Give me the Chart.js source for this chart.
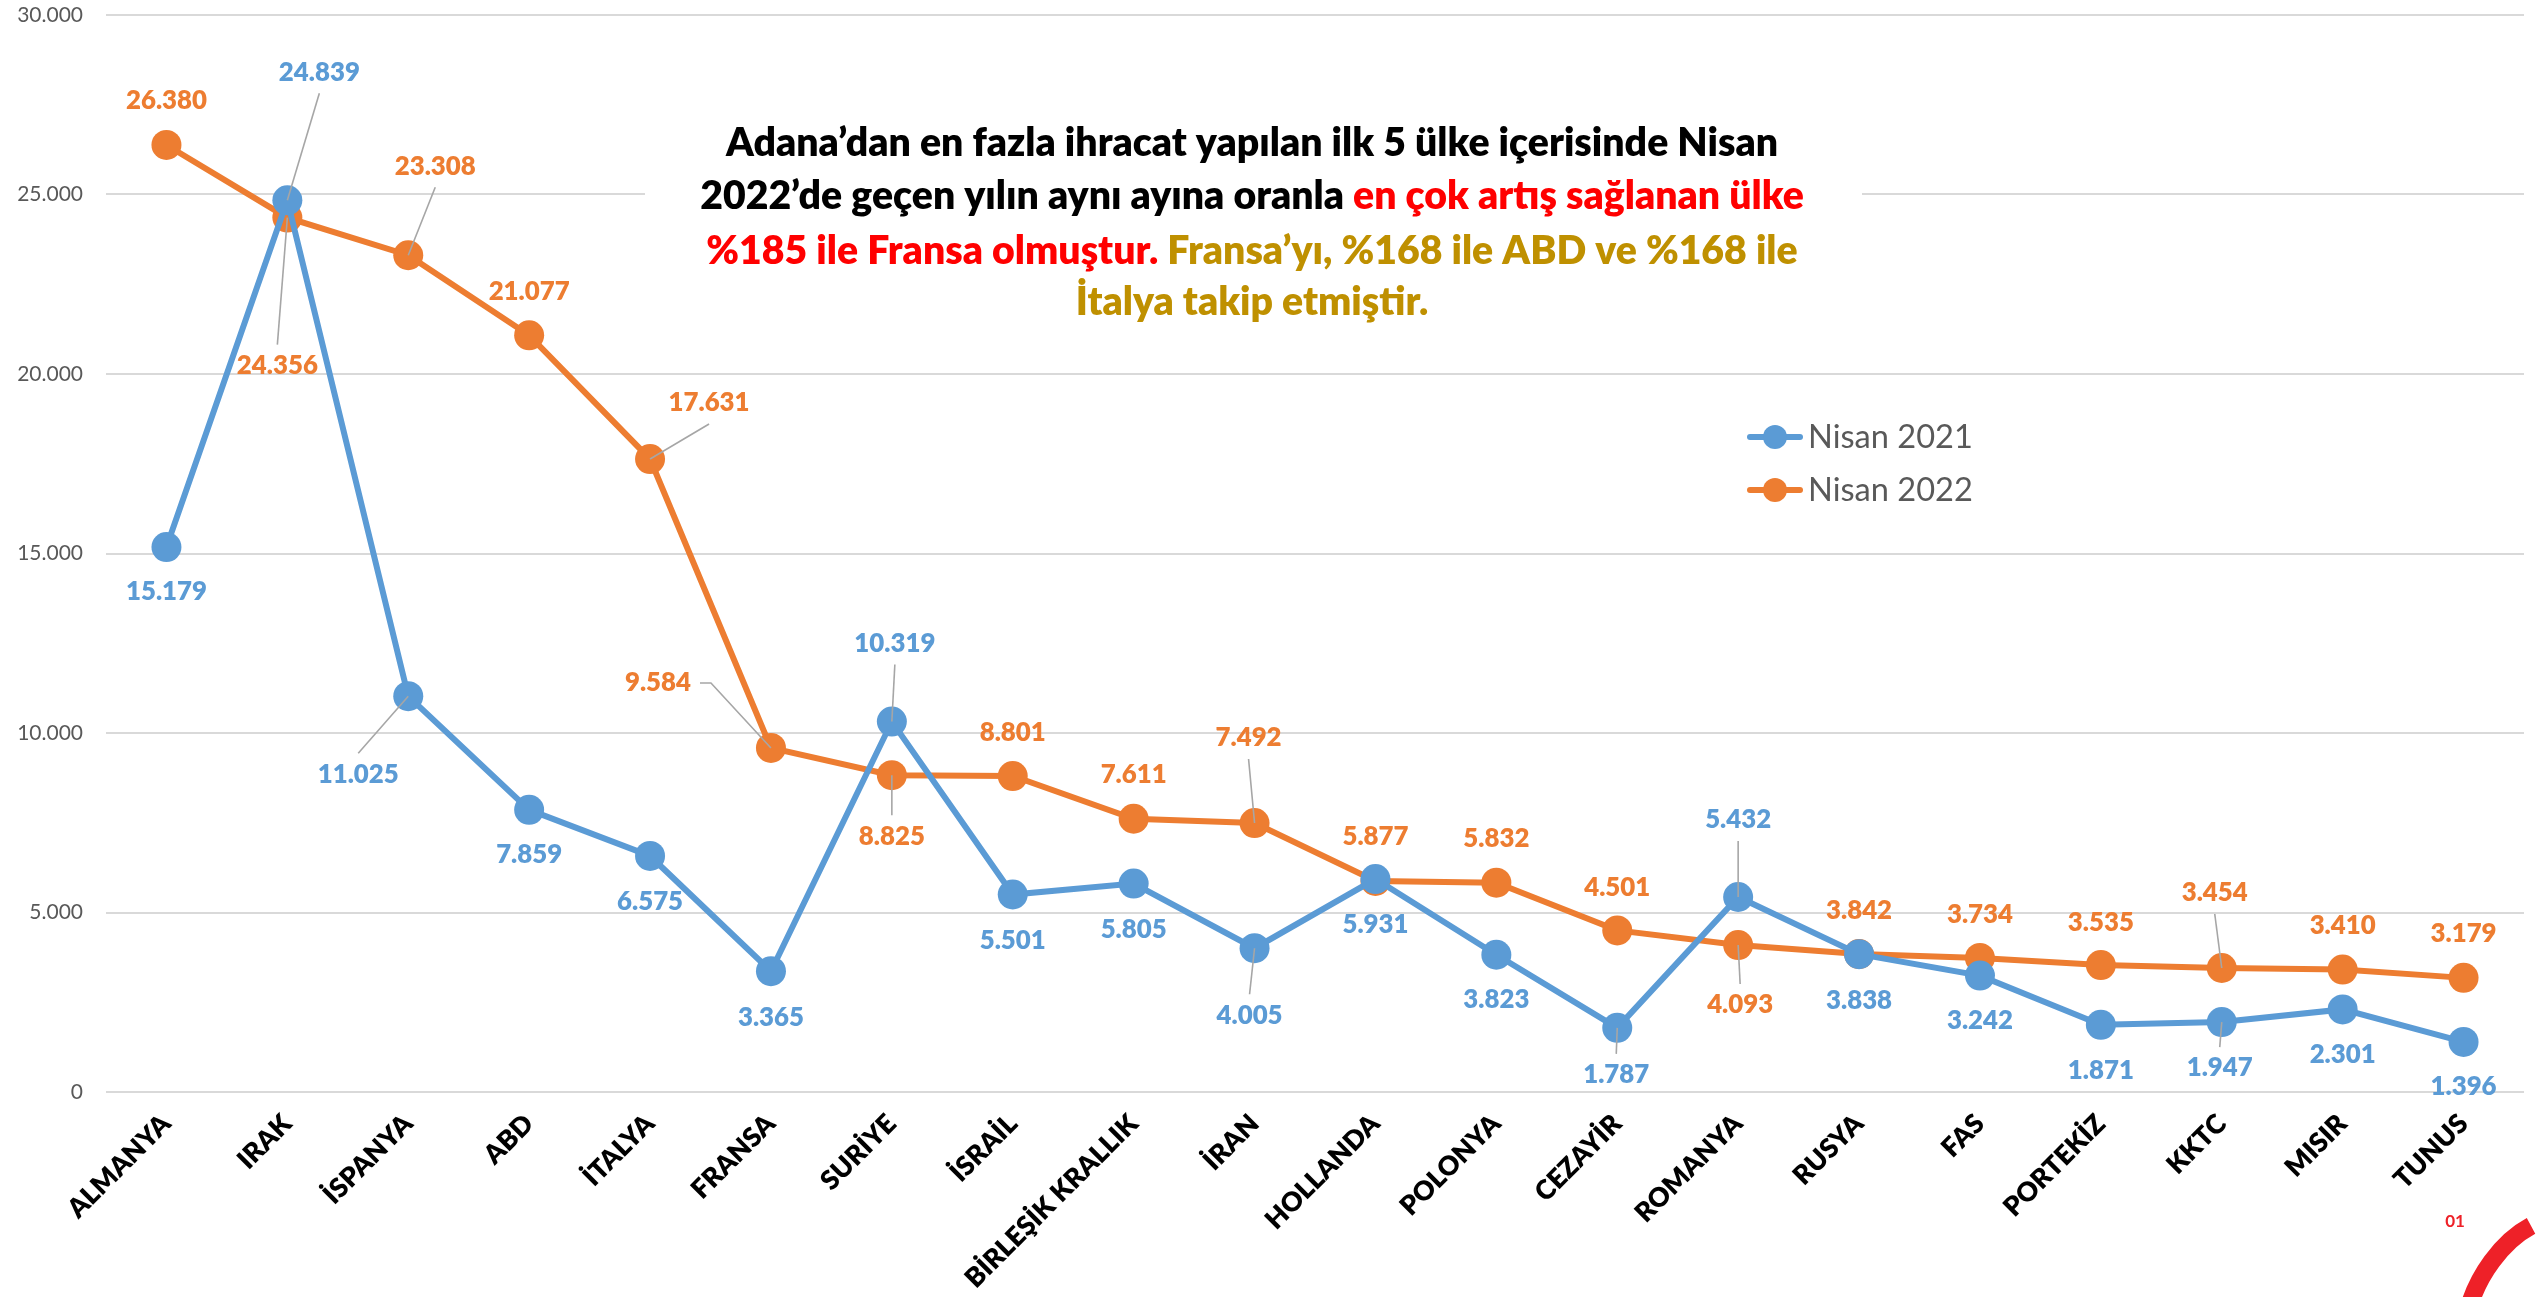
<!DOCTYPE html>
<html><head><meta charset="utf-8">
<script src="https://cdn.jsdelivr.net/npm/chart.js@4.4.1/dist/chart.umd.min.js"></script>
<style>html,body{margin:0;padding:0;background:#fff;overflow:hidden}canvas{display:block}</style>
</head><body>
<canvas id="c" width="2539" height="1297"></canvas>
<script>
// ---------- data ----------
const categories = ['ALMANYA','IRAK','İSPANYA','ABD','İTALYA','FRANSA','SURİYE','İSRAİL','BİRLEŞİK KRALLIK','İRAN','HOLLANDA','POLONYA','CEZAYİR','ROMANYA','RUSYA','FAS','PORTEKİZ','KKTC','MISIR','TUNUS'];
const seriesNames = ['Nisan 2021','Nisan 2022'];
const nisan2021 = [15179,24839,11025,7859,6575,3365,10319,5501,5805,4005,5931,3823,1787,5432,3838,3242,1871,1947,2301,1396];
const nisan2022 = [26380,24356,23308,21077,17631,9584,8825,8801,7611,7492,5877,5832,4501,4093,3842,3734,3535,3454,3410,3179];
const yTicks = [0,5000,10000,15000,20000,25000,30000];
const titleLines = [
  [['Adana’dan en fazla ihracat yapılan ilk 5 ülke içerisinde Nisan','#000000']],
  [['2022’de geçen yılın aynı ayına oranla ','#000000'],['en çok artış sağlanan ülke','#FF0000']],
  [['%185 ile Fransa olmuştur.','#FF0000'],[' Fransa’yı, %168 ile ABD ve %168 ile','#BF9000']],
  [['İtalya takip etmiştir.','#BF9000']]
];

// ---------- label placement (pixel offsets from the point, leader flag) ----------
const place2021 = [[0,45],[32,-128,1],[-50,78,1],[0,45],[0,46],[0,46],[3,-78,1],[0,46],[0,46],[-5,67,1],[0,46],[0,45],[-1,47,1],[0,-77,1],[0,46],[0,45],[0,46],[-2,46,1],[0,45],[0,45]];
const place2022 = [[0,-44],[-10,148,1],[27,-89,1],[0,-44],[59,-56,1],[-113,-65,1],[0,61,1],[0,-43],[0,-44],[-6,-85,1],[0,-44],[0,-44],[0,-43],[2,60,1],[0,-43],[0,-43],[0,-42],[-7,-75,1],[0,-44],[0,-44]];

// ---------- styles ----------
const BLUE = '#5B9BD5', ORANGE = '#ED7D31';
const FAMILY = 'Lato, "Open Sans", "DejaVu Sans", sans-serif';
const HEAVY = '800';
const mctx = document.createElement('canvas').getContext('2d');
function fitSize(text, weight, target){ mctx.font = weight + ' 100px ' + FAMILY; return +(100*target/mctx.measureText(text).width).toFixed(1); }
const fmt = v => String(Math.round(v)).replace(/\B(?=(\d{3})+(?!\d))/g, '.');
const titleSize = fitSize(titleLines[0][0][0], HEAVY, 1052);
const legendSize = fitSize('Nisan 2021', 'normal', 165);
const dlSize = fitSize('26.380', HEAVY, 81);
const ySize = fitSize('30.000', 'normal', 66);
const xSize = fitSize('BİRLEŞİK KRALLIK', HEAVY, 232);

const overlayPlugin = {
  id: 'overlay',
  beforeDatasetsDraw(chart){
    const ctx = chart.ctx;
    ctx.save();
    ctx.fillStyle = '#fff';
    ctx.fillRect(645, 96, 1217, 238);
    ctx.font = HEAVY + ' ' + titleSize + 'px ' + FAMILY;
    ctx.textBaseline = 'middle'; ctx.textAlign = 'left';
    const ys = [143, 196, 251, 302];
    titleLines.forEach((segs, li) => {
      const total = segs.reduce((s, g) => s + ctx.measureText(g[0]).width, 0);
      let x = 1252 - total/2;
      segs.forEach(g => { ctx.fillStyle = g[1]; ctx.fillText(g[0], x, ys[li]); x += ctx.measureText(g[0]).width; });
    });
    ctx.restore();
  },
  afterDatasetsDraw(chart){
    const ctx = chart.ctx;
    const places = [place2021, place2022];
    ctx.save();
    ctx.font = HEAVY + ' ' + dlSize + 'px ' + FAMILY;
    ctx.textAlign = 'center'; ctx.textBaseline = 'middle';
    chart.data.datasets.forEach((ds, di) => {
      const meta = chart.getDatasetMeta(di);
      meta.data.forEach((pt, i) => {
        const p = places[di][i];
        const lx = pt.x + p[0], ly = pt.y + p[1];
        const txt = fmt(ds.data[i]);
        if (p[2]) {
          const w = ctx.measureText(txt).width;
          const dx = pt.x - lx, dy = pt.y - ly;
          ctx.strokeStyle = '#A6A6A6'; ctx.lineWidth = 1.6;
          ctx.beginPath();
          if (Math.abs(dx) > w/2 + 30) {
            const s = Math.sign(dx);
            const sx = lx + s*(w/2 + 9);
            ctx.moveTo(sx, ly); ctx.lineTo(sx + s*11, ly); ctx.lineTo(pt.x, pt.y);
          } else {
            const s = Math.sign(dy);
            ctx.moveTo(lx, ly + s*21); ctx.lineTo(pt.x, pt.y);
          }
          ctx.stroke();
        }
        ctx.fillStyle = ds.borderColor;
        ctx.fillText(txt, lx, ly);
      });
    });
    ctx.restore();
  },
  afterDraw(chart){
    const ctx = chart.ctx;
    ctx.save();
    // legend
    const ly = [437, 490];
    chart.data.datasets.forEach((ds, i) => {
      ctx.strokeStyle = ds.borderColor; ctx.lineWidth = 6; ctx.lineCap = 'round';
      ctx.beginPath(); ctx.moveTo(1750, ly[i]); ctx.lineTo(1800, ly[i]); ctx.stroke();
      ctx.fillStyle = ds.borderColor;
      ctx.beginPath(); ctx.arc(1775, ly[i], 12, 0, Math.PI*2); ctx.fill();
      ctx.fillStyle = '#595959';
      ctx.font = legendSize + 'px ' + FAMILY;
      ctx.textAlign = 'left'; ctx.textBaseline = 'middle';
      ctx.fillText(ds.label, 1808, ly[i]);
    });
    // logo mark
    ctx.strokeStyle = '#EE2128'; ctx.lineWidth = 18; ctx.lineCap = 'butt';
    ctx.beginPath(); ctx.ellipse(2532, 1302, 92, 56, -Math.PI*0.33, Math.PI*0.55, Math.PI*1.75); ctx.stroke();
    ctx.fillStyle = '#EE2128'; ctx.font = 'bold 17px ' + FAMILY; ctx.textAlign = 'center';
    ctx.fillText('01', 2455, 1222);
    ctx.restore();
  }
};

new Chart(document.getElementById('c'), {
  type: 'line',
  data: {
    labels: categories,
    datasets: [
      { label: seriesNames[0], data: nisan2021, borderColor: BLUE, backgroundColor: BLUE, borderWidth: 6, pointRadius: 15, pointBorderWidth: 0, pointBackgroundColor: BLUE, tension: 0 },
      { label: seriesNames[1], data: nisan2022, borderColor: ORANGE, backgroundColor: ORANGE, borderWidth: 6, pointRadius: 15, pointBorderWidth: 0, pointBackgroundColor: ORANGE, tension: 0 }
    ]
  },
  options: {
    responsive: false, animation: false, devicePixelRatio: 1,
    layout: { padding: { top: 14, right: 9, left: 0, bottom: 0 } },
    plugins: { legend: { display: false }, tooltip: { enabled: false }, title: { display: false } },
    scales: {
      x: {
        offset: true,
        grid: { display: false, drawTicks: false },
        border: { display: false },
        ticks: { autoSkip: false, maxRotation: 45, minRotation: 45, color: '#000', padding: 16, font: { family: FAMILY, size: xSize, weight: HEAVY } },
        afterFit(s){ s.height = 205; }
      },
      y: {
        min: 0, max: 30000,
        grid: { color: '#D9D9D9', lineWidth: 2, drawTicks: false },
        border: { display: false },
        ticks: { color: '#595959', padding: 23, font: { family: FAMILY, size: ySize, lineHeight: 0.01 }, callback: v => fmt(v) },
        afterBuildTicks(s){ s.ticks = yTicks.map(v => ({ value: v })); },
        afterFit(s){ s.width = 106; s.paddingTop = 0; s.paddingBottom = 0; }
      }
    }
  },
  plugins: [overlayPlugin]
});
</script>
</body></html>
